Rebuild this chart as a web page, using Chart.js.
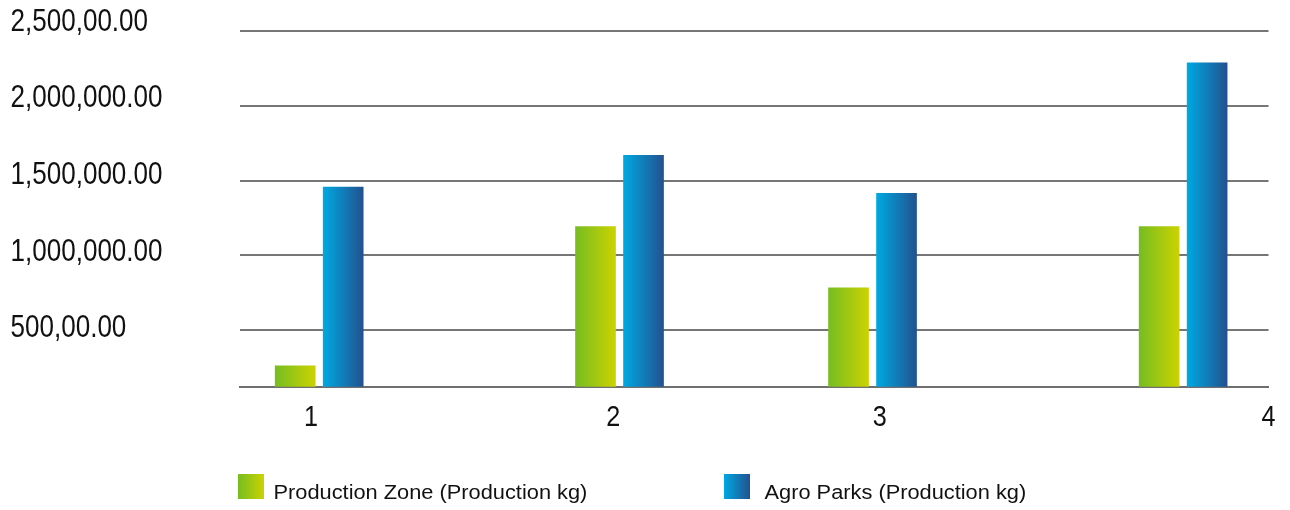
<!DOCTYPE html>
<html>
<head>
<meta charset="utf-8">
<title>Production by area</title>
<script src="https://cdn.jsdelivr.net/npm/chart.js@4/dist/chart.umd.min.js"></script>
<style>
  html, body { margin: 0; padding: 0; background: #ffffff; }
  #wrap { width: 1290px; height: 510px; position: relative; }
</style>
</head>
<body>
<div id="wrap"><canvas id="chart"></canvas></div>
<script>
// Periods shown along the bottom axis
const categories = ['1', '2', '3', '4'];

// Production in kg per period
const zoneOutput = [258000, 1192000, 782000, 1192000];
const parksOutput = [1456000, 1669000, 1414000, 2289000];

const seriesNames = ['Production Zone (Production kg)', 'Agro Parks (Production kg)'];

// Value axis ticks and the text printed for them
const gridValues = [500000, 1000000, 1500000, 2000000, 2500000];
const gridLabels = ['500,00.00', '1,000,000.00', '1,500,000.00', '2,000,000.00', '2,500,00.00'];

// Horizontal layout (percent of plot width): where each bar pair sits and where its number is printed
const groupCenters = [7.7, 36.9, 61.5, 91.7];
const labelSpots = [6.9, 36.3, 62.2, 100];

// Left-to-right shading of each series
const shades = [
  ['#76bd21', '#cbd300'],
  ['#00a8e1', '#22528f']
];

const tickFont = { family: "'Liberation Sans', Arial, sans-serif", size: 31, lineHeight: 1 };
const keyFont = "20px 'Liberation Sans', Arial, sans-serif";

// Linear scale whose tick labels are drawn horizontally condensed
class CondensedLinearScale extends Chart.LinearScale {
  drawLabels(chartArea) {
    if (!this.options.ticks.display) return;
    const ctx = this.ctx;
    const squeeze = this.options.ticks.squeeze || 1;
    for (const item of this.getLabelItems(chartArea)) {
      const o = item.options;
      ctx.save();
      ctx.translate(o.translation[0], o.translation[1]);
      ctx.scale(squeeze, 1);
      ctx.font = item.font.string;
      ctx.fillStyle = o.color;
      ctx.textAlign = o.textAlign;
      ctx.textBaseline = o.textBaseline;
      ctx.fillText(item.label, 0, item.textOffset);
      ctx.restore();
    }
  }
}
CondensedLinearScale.id = 'condensedLinear';
CondensedLinearScale.defaults = Chart.LinearScale.defaults;
Chart.register(CondensedLinearScale);

function shadeFill(ctx, left, right, pair) {
  const g = ctx.createLinearGradient(left, 0, right, 0);
  g.addColorStop(0, pair[0]);
  g.addColorStop(1, pair[1]);
  return g;
}

// Paint every bar with a horizontal gradient spanning its own width
const barShading = {
  id: 'barShading',
  beforeDatasetsDraw(chart) {
    const ctx = chart.ctx;
    chart.data.datasets.forEach((ds, di) => {
      const meta = chart.getDatasetMeta(di);
      meta.data.forEach(bar => {
        const { x, width } = bar.getProps(['x', 'width'], true);
        const fill = shadeFill(ctx, x - width / 2, x + width / 2, shades[di]);
        bar.options = Object.assign({}, bar.options, { backgroundColor: fill });
      });
    });
  }
};

// Series key under the plot: shaded swatch followed by the series name
const seriesKey = {
  id: 'seriesKey',
  afterDraw(chart, args, opts) {
    const ctx = chart.ctx;
    chart.data.datasets.forEach((ds, di) => {
      const left = opts.starts[di];
      ctx.save();
      ctx.fillStyle = shadeFill(ctx, left, left + opts.box, shades[di]);
      ctx.fillRect(left, opts.top, opts.box, opts.boxHeight);
      ctx.translate(opts.textStarts[di], opts.baseline);
      ctx.scale(opts.stretch, 1);
      ctx.font = keyFont;
      ctx.fillStyle = '#111111';
      ctx.textAlign = 'left';
      ctx.textBaseline = 'alphabetic';
      ctx.fillText(ds.label, 0, 0);
      ctx.restore();
    });
  }
};

const toPoints = values => values.map((v, i) => ({ x: groupCenters[i], y: v }));

new Chart(document.getElementById('chart'), {
  type: 'bar',
  data: {
    datasets: [
      { label: seriesNames[0], data: toPoints(zoneOutput), backgroundColor: shades[0][0] },
      { label: seriesNames[1], data: toPoints(parksOutput), backgroundColor: shades[1][0] }
    ]
  },
  options: {
    responsive: true,
    maintainAspectRatio: false,
    animation: false,
    barThickness: 48,
    maxBarThickness: 40,
    borderWidth: 0,
    layout: { padding: { left: 10.5, top: 31.3, right: 21.5, bottom: 60.3 } },
    plugins: {
      legend: { display: false },
      tooltip: { enabled: false },
      seriesKey: {
        starts: [238, 724], textStarts: [273.5, 764.5],
        top: 474, box: 26, boxHeight: 25, baseline: 498.5, stretch: 1.09
      }
    },
    scales: {
      x: {
        type: 'condensedLinear',
        min: 0,
        max: 100,
        offset: false,
        grid: { display: false, drawTicks: false, offset: false },
        border: { display: true, color: '#6f6f6f', width: 2 },
        afterBuildTicks: s => { s.ticks = labelSpots.map(v => ({ value: v })); },
        afterFit: s => { s.paddingLeft = 0; s.paddingRight = 0; },
        ticks: {
          autoSkip: false,
          maxRotation: 0,
          padding: 16.5,
          squeeze: 0.84,
          color: '#111111',
          font: { ...tickFont, size: 30 },
          callback: (v, i) => categories[i]
        }
      },
      y: {
        type: 'linear',
        position: 'left',
        weight: 0,
        min: 119000,
        max: 2500000,
        beginAtZero: false,
        grid: { color: '#767676', lineWidth: 2, drawTicks: false },
        border: { display: false },
        ticks: { display: false },
        afterBuildTicks: s => { s.ticks = gridValues.map(v => ({ value: v })); },
        afterFit: s => { s.width = 0; }
      },
      yText: {
        type: 'condensedLinear',
        position: 'left',
        weight: 1,
        min: 122900,
        max: 2439200,
        grid: { display: false, drawTicks: false },
        border: { display: false },
        afterBuildTicks: s => { s.ticks = gridValues.map(v => ({ value: v })); },
        afterFit: s => { s.width = 229.5; },
        ticks: {
          autoSkip: false,
          crossAlign: 'far',
          squeeze: 0.84,
          color: '#111111',
          font: tickFont,
          callback: (v, i) => gridLabels[i]
        }
      }
    }
  },
  plugins: [barShading, seriesKey]
});
</script>
</body>
</html>
